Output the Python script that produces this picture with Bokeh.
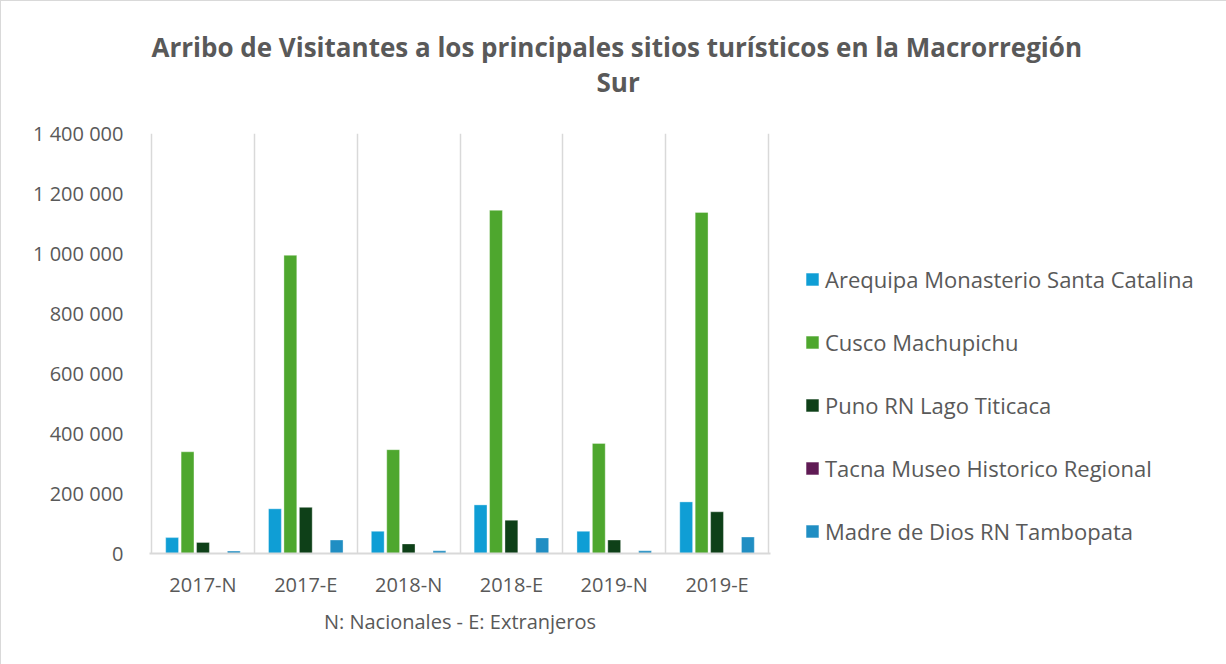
from bokeh.plotting import figure
from bokeh.models import Range1d, FixedTicker, Legend, LegendItem, Title
from bokeh.embed import file_html
from bokeh.resources import INLINE

categories = ["2017-N", "2017-E", "2018-N", "2018-E", "2019-N", "2019-E"]
series_names = [
    "Arequipa Monasterio Santa Catalina",
    "Cusco Machupichu",
    "Puno RN Lago Titicaca",
    "Tacna Museo Historico Regional",
    "Madre de Dios RN Tambopata",
]
arequipa = [53000, 149000, 74000, 162000, 74000, 172000]
cusco = [339000, 994000, 346000, 1144000, 367000, 1137000]
puno = [37000, 154000, 32000, 111000, 45000, 139000]
tacna = [0, 0, 0, 0, 0, 0]
madre = [8000, 45000, 9000, 52000, 9000, 55000]
y_ticks = [0, 200000, 400000, 600000, 800000, 1000000, 1200000, 1400000]

series_values = [arequipa, cusco, puno, tacna, madre]
colors = ["#0F9ED5", "#4EA72E", "#0E4018", "#5F1A54", "#208EC3"]

TEXT = "#595959"
FONT = "Open Sans"
n = len(categories)
pad = 0.02

p = figure(frame_width=621, frame_height=420, output_backend="svg", toolbar_location=None,
           x_range=Range1d(-pad, n + pad), y_range=Range1d(0, 1400000),
           min_border_left=148, min_border_right=456, min_border_top=132,
           min_border_bottom=111)
p.styles = {"border-left": "1px solid #d9d9d9", "border-top": "1px solid #d9d9d9"}
p.outline_line_color = None
p.background_fill_color = "white"
p.border_fill_color = "white"

slot = 0.15
bw = 0.125
renderers = []
for k, (name, vals, col) in enumerate(zip(series_names, series_values, colors)):
    xs = [i + 0.5 + (k - 2) * slot for i in range(n)]
    r = p.vbar(x=xs, top=vals, bottom=0, width=bw, fill_color=col,
               line_color="white", line_alpha=0.35, line_width=1)
    renderers.append((name, r))

# grid: vertical lines at category boundaries only
p.xgrid.ticker = FixedTicker(ticks=list(range(n + 1)))
p.xgrid.grid_line_color = "#d9d9d9"
p.xgrid.grid_line_width = 1.5
p.ygrid.grid_line_color = None

# x axis
xa = p.xaxis[0]
xa.ticker = FixedTicker(ticks=[i + 0.5 for i in range(n)])
xa.major_label_overrides = {i + 0.5: c for i, c in enumerate(categories)}
xa.axis_line_color = "#d9d9d9"
xa.axis_line_width = 2
xa.major_tick_line_color = None
xa.minor_tick_line_color = None
xa.major_tick_out = 0
xa.minor_tick_out = 0
xa.major_label_text_font = FONT
xa.major_label_text_font_size = "20px"
xa.major_label_text_color = TEXT
xa.major_label_standoff = 17
xa.axis_label = "N: Nacionales - E: Extranjeros"
xa.axis_label_text_font = FONT
xa.axis_label_text_font_size = "20px"
xa.axis_label_text_font_style = "normal"
xa.axis_label_text_color = TEXT
xa.axis_label_standoff = 7

# y axis
ya = p.yaxis[0]
ya.ticker = FixedTicker(ticks=y_ticks)
ya.major_label_overrides = {v: f"{v:,}".replace(",", " ") for v in y_ticks}
ya.axis_line_color = None
ya.major_tick_line_color = None
ya.minor_tick_line_color = None
ya.major_tick_out = 0
ya.minor_tick_out = 0
ya.major_label_text_font = FONT
ya.major_label_text_font_size = "20px"
ya.major_label_text_color = TEXT
ya.major_label_standoff = 26

# title: stacked above the frame (first added is nearest the frame)
title_style = dict(text_font=FONT, text_font_size="26px", text_font_style="bold",
                   text_color=TEXT, align="left", vertical_align="bottom")
p.add_layout(Title(text=" ", align="left", standoff=21, text_font_size="10px"), "above")
p.add_layout(Title(text="Sur", offset=447, standoff=0, **title_style), "above")
p.add_layout(Title(text="Arribo de Visitantes a los principales sitios turísticos en la Macrorregión",
                   offset=2, standoff=-6, **title_style), "above")

legend = Legend(items=[LegendItem(label=nm, renderers=[r]) for nm, r in renderers],
                location=(34, 7), orientation="vertical",
                glyph_width=16, glyph_height=16, label_height=20,
                spacing=33, padding=0, margin=0, label_standoff=5,
                label_text_font=FONT, label_text_font_size="22px",
                label_text_color=TEXT, border_line_color=None,
                background_fill_alpha=0)
p.add_layout(legend, "right")

open("out.html", "w").write(file_html(p, INLINE))
